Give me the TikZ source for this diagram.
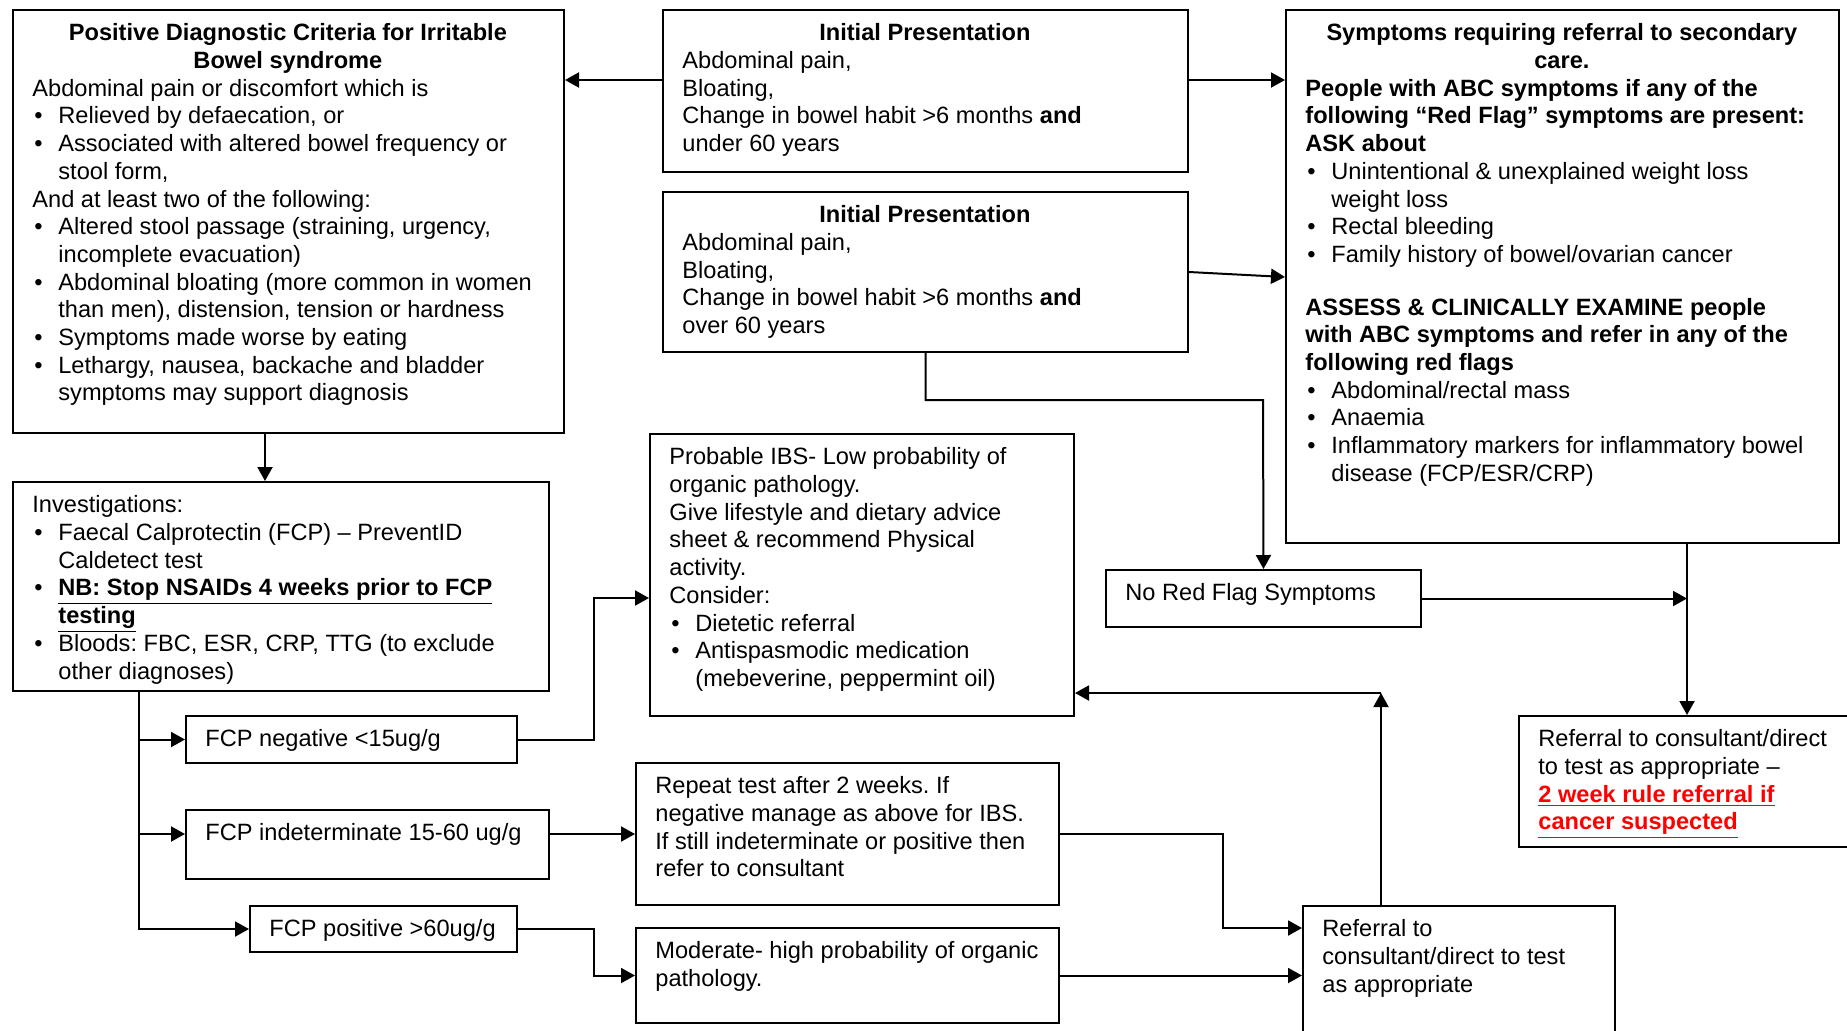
\documentclass[tikz,border=0pt]{standalone}
\usepackage{fontspec}
\setmainfont{Liberation Sans}
\usetikzlibrary{arrows.meta}
\frenchspacing
\newcommand{\fs}{\fontsize{11.8}{13.85}\selectfont\frenchspacing}
\newcommand{\bul}{\makebox[13pt][l]{\hspace{1pt}\textbullet}}
\newcommand{\hng}{\hspace*{13pt}}
\tikzset{
  box/.style={draw, line width=1pt, inner sep=0pt, anchor=north west},
  txt/.style={inner sep=0pt, anchor=north west, align=left, font=\fs},
  arr/.style={line width=1pt, -{Triangle[length=7pt,width=7.5pt]}},
}
\begin{document}
\begin{tikzpicture}[x=0.5pt,y=-0.5pt]
\useasboundingbox[fill=white] (0,0) rectangle (1847,1030);

% boxes
\node[box, minimum width=275.5pt, minimum height=211.5pt] (b1) at (12,9) {};
\node[box, minimum width=262.5pt, minimum height=81pt] (ip1) at (662,9) {};
\node[box, minimum width=262.5pt, minimum height=80pt] (ip2) at (662,191) {};
\node[box, minimum width=276.5pt, minimum height=266.5pt] (sym) at (1285,9) {};
\node[box, minimum width=268pt, minimum height=104.5pt] (inv) at (12,481) {};
\node[box, minimum width=212pt, minimum height=141pt] (ibs) at (649,433) {};
\node[box, minimum width=157.5pt, minimum height=28.5pt] (nrf) at (1105,569) {};
\node[box, minimum width=200pt, minimum height=65.5pt] (red) at (1518,715) {};
\node[box, minimum width=165.5pt, minimum height=23.5pt] (fneg) at (185,715) {};
\node[box, minimum width=181.5pt, minimum height=34.5pt] (find) at (185,809) {};
\node[box, minimum width=133.5pt, minimum height=23pt] (fpos) at (249,905) {};
\node[box, minimum width=211.5pt, minimum height=71pt] (rep) at (635,762) {};
\node[box, minimum width=211.5pt, minimum height=47.5pt] (mod) at (635,927) {};
\node[box, minimum width=156pt, minimum height=80pt] (rcons) at (1302,905) {};

% texts
\node[txt] (b1t) at ([shift={(20,12)}]b1.north west) {\strut\makebox[255.5pt][c]{\bfseries Positive Diagnostic Criteria for Irritable}\\
\makebox[255.5pt][c]{\bfseries Bowel syndrome}\\
Abdominal pain or discomfort which is\\
\bul Relieved by defaecation, or\\
\bul Associated with altered bowel frequency or\\
\hng stool form,\\
And at least two of the following:\\
\bul Altered stool passage (straining, urgency,\\
\hng incomplete evacuation)\\
\bul Abdominal bloating (more common in women\\
\hng than men), distension, tension or hardness\\
\bul Symptoms made worse by eating\\
\bul Lethargy, nausea, backache and bladder\\
\hng symptoms may support diagnosis};

\node[txt] (ip1t) at ([shift={(20,12)}]ip1.north west) {\strut\makebox[242.5pt][c]{\bfseries Initial Presentation}\\
Abdominal pain,\\
Bloating,\\
Change in bowel habit >6 months \textbf{and}\\
under 60 years};

\node[txt] (ip2t) at ([shift={(20,12)}]ip2.north west) {\strut\makebox[242.5pt][c]{\bfseries Initial Presentation}\\
Abdominal pain,\\
Bloating,\\
Change in bowel habit >6 months \textbf{and}\\
over 60 years};

\node[txt] (symt) at ([shift={(20,12)}]sym.north west) {\strut\makebox[256.5pt][c]{\bfseries Symptoms requiring referral to secondary}\\
\makebox[256.5pt][c]{\bfseries care.}\\
\textbf{People with ABC symptoms if any of the}\\
\textbf{following “Red Flag” symptoms are present:}\\
\textbf{ASK about}\\
\bul Unintentional \& unexplained weight loss\\
\hng weight loss\\
\bul Rectal bleeding\\
\bul Family history of bowel/ovarian cancer\\[12.5pt]
\textbf{ASSESS \& CLINICALLY EXAMINE people}\\
\textbf{with ABC symptoms and refer in any of the}\\
\textbf{following red flags}\\
\bul Abdominal/rectal mass\\
\bul Anaemia\\
\bul Inflammatory markers for inflammatory bowel\\
\hng disease (FCP/ESR/CRP)};

\node[txt] (invt) at ([shift={(20,12)}]inv.north west) {\strut Investigations:\\
\bul Faecal Calprotectin (FCP) – PreventID\\
\hng Caldetect test\\
\bul \textbf{\underline{NB: Stop NSAIDs 4 weeks prior to FCP}}\\
\hng \textbf{\underline{testing}}\\
\bul Bloods: FBC, ESR, CRP, TTG (to exclude\\
\hng other diagnoses)};

\node[txt] (ibst) at ([shift={(20,12)}]ibs.north west) {\strut Probable IBS- Low probability of\\
organic pathology.\\
Give lifestyle and dietary advice\\
sheet \& recommend Physical\\
activity.\\
Consider:\\
\bul Dietetic referral\\
\bul Antispasmodic medication\\
\hng (mebeverine, peppermint oil)};

\node[txt] (nrft) at ([shift={(20,12)}]nrf.north west) {\strut No Red Flag Symptoms};

\node[txt] (redt) at ([shift={(20,12)}]red.north west) {\strut Referral to consultant/direct\\
to test as appropriate –\\
{\color{red}\bfseries\underline{2 week rule referral if}}\\
{\color{red}\bfseries\underline{cancer suspected}}};

\node[txt] (fnegt) at ([shift={(20,12)}]fneg.north west) {\strut FCP negative <15ug/g};
\node[txt] (findt) at ([shift={(20,12)}]find.north west) {\strut FCP indeterminate 15-60 ug/g};
\node[txt] (fpost) at ([shift={(20,12)}]fpos.north west) {\strut FCP positive >60ug/g};

\node[txt] (rept) at ([shift={(20,12)}]rep.north west) {\strut Repeat test after 2 weeks. If\\
negative manage as above for IBS.\\
If still indeterminate or positive then\\
refer to consultant};

\node[txt] (modt) at ([shift={(20,12)}]mod.north west) {\strut Moderate- high probability of organic\\
pathology.};

\node[txt] (rconst) at ([shift={(20,12)}]rcons.north west) {\strut Referral to\\
consultant/direct to test\\
as appropriate};

% helper coordinates
\coordinate (y80) at (0,80);
\coordinate (y272) at (0,272);
\coordinate (y277) at (0,277);
\coordinate (k4) at (1263,400);
\coordinate (k5) at (265,0);
\coordinate (k6) at (139,0);
\coordinate (y834) at (0,834);
\coordinate (k7) at (594,598);
\coordinate (k10) at (1223,928);
\coordinate (k12) at (1381,693);
\coordinate (k13) at (1687,0);

% connectors
\draw[arr] (ip1.west |- y80) -- (b1.east |- y80);
\draw[arr] (ip1.east |- y80) -- (sym.west |- y80);
\draw[arr] (ip2.east |- y272) -- (sym.west |- y277);
\draw[arr] (ip2.south) |- (k4) -- (nrf.north);
\draw[arr] (b1.south -| k5) -- (inv.north -| k5);
\draw[arr] (inv.south -| k6) |- (fpos.west);
\draw[arr] (k6 |- fneg.west) -- (fneg.west);
\draw[arr] (k6 |- y834) -- (find.west |- y834);
\draw[arr] (fneg.east) -| (k7) -- (ibs.west |- k7);
\draw[arr] (find.east |- y834) -- (rep.west |- y834);
\draw[arr] (fpos.east) -| (k7 |- mod.west) -- (mod.west);
\draw[arr] (rep.east |- y834) -| (k10) -- (rcons.west |- k10);
\draw[arr] (mod.east) -- (rcons.west |- mod.east);
\draw[arr] (rcons.north -| k12) -- (k12);
\draw[arr] (k12) -- (ibs.east |- k12);
\draw[arr] (nrf.east) -- (k13 |- nrf.east);
\draw[arr] (sym.south -| k13) -- (red.north -| k13);
\end{tikzpicture}
\end{document}
